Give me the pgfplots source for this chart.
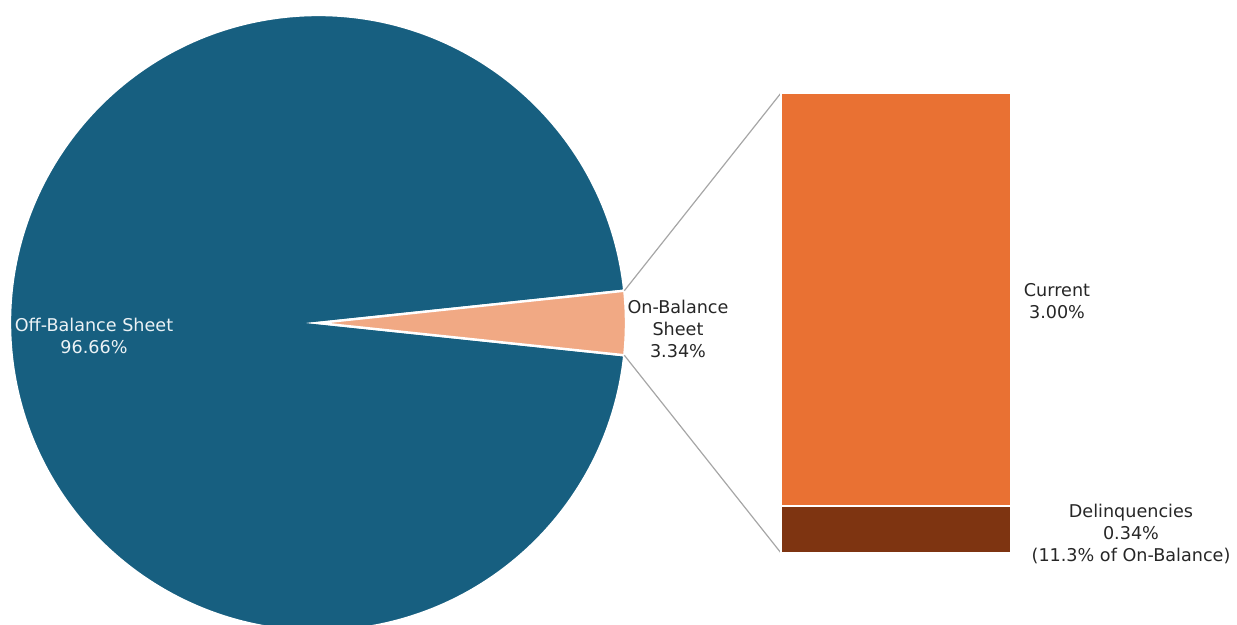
\documentclass[border=0pt]{standalone}
\usepackage{pgfplots}
\pgfplotsset{compat=1.18}
\usepackage{fontspec}
\setmainfont{DejaVu Sans}
\definecolor{offbal}{HTML}{175F80}
\definecolor{onbal}{HTML}{F1A984}
\definecolor{curr}{HTML}{E97133}
\definecolor{delq}{HTML}{7E3411}
\definecolor{conn}{HTML}{A6A6A6}
\begin{document}
\begin{tikzpicture}
% values (percent of total)
\def\OffBal{96.66}
\def\OnBal{3.34}
\def\Curr{3.00}
\def\Delq{0.34}
\pgfmathsetmacro{\half}{\OnBal*3.6/2}
\pgfmathsetmacro{\offend}{360-\half}
\begin{axis}[
  scale only axis, width=618.5pt, height=312.5pt,
  xmin=0, xmax=1237, ymin=0, ymax=625,
  hide axis, clip=true,
]
% pie: centre (318,302), radius 308 px (0.5pt per px)
\fill[offbal, draw=white, line width=1.2pt] (axis cs:318,302) -- ([shift={(\half:154pt)}]axis cs:318,302) arc[start angle=\half, end angle=\offend, radius=154pt] -- cycle;
\fill[onbal, draw=white, line width=1.2pt] (axis cs:318,302) -- ([shift={(-\half:154pt)}]axis cs:318,302) arc[start angle=-\half, end angle=\half, radius=154pt] -- cycle;
% connectors
\draw[conn, line width=0.6pt] ([shift={(\half:154pt)}]axis cs:318,302) -- (axis cs:781,532);
\draw[conn, line width=0.6pt] ([shift={(-\half:154pt)}]axis cs:318,302) -- (axis cs:781,72);
% labels
\node[align=center, text=white!92!offbal, font=\fontsize{8.8pt}{11pt}\selectfont] at (axis cs:94,289) {Off-Balance Sheet\\96.66\%};
\node[align=center, text=black!85, font=\fontsize{8.8pt}{11pt}\selectfont] at (axis cs:678,296) {On-Balance\\Sheet\\3.34\%};
\node[align=center, text=black!85, font=\fontsize{8.8pt}{11pt}\selectfont] at (axis cs:1057,324) {Current\\3.00\%};
\node[align=center, text=black!85, font=\fontsize{8.8pt}{11pt}\selectfont] at (axis cs:1131,91) {Delinquencies\\0.34\%\\(11.3\% of On-Balance)};
\end{axis}
\begin{axis}[
  at={(390.6pt,36pt)}, anchor=south west,
  scale only axis, width=115pt, height=230pt,
  xmin=-0.5, xmax=0.5, ymin=0, ymax=3.34,
  hide axis, clip=false,
  ybar stacked, bar width=115pt,
]
\addplot[fill=delq, draw=white, line width=0.8pt] coordinates {(0,0.34)};
\addplot[fill=curr, draw=white, line width=0.8pt] coordinates {(0,3.00)};
\end{axis}
\end{tikzpicture}
\end{document}
